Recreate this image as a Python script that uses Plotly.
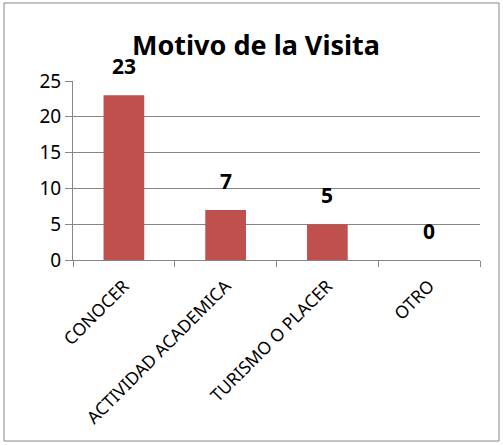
import plotly.graph_objects as go

categorias = ["CONOCER", "ACTIVIDAD ACADEMICA", "TURISMO O PLACER", "OTRO"]
valores = [23, 7, 5, 0]

fuente = "Noto Sans"
rojo = "#C0504D"
gris = "#868686"

fig = go.Figure()
fig.add_trace(go.Bar(x=categorias, y=valores, marker_color=rojo, width=0.4,
                     marker_line_width=0))

# etiquetas de datos en negrita sobre cada barra
for c, v in zip(categorias, valores):
    fig.add_annotation(x=c, y=v, text="<b>%d</b>" % v, showarrow=False,
                       yanchor="bottom", yshift=13,
                       font=dict(family=fuente, size=21, color="black"))

# marco exterior del grafico
fig.add_shape(type="rect", xref="paper", yref="paper",
              x0=(4 - 73) / 407, x1=(499 - 73) / 407,
              y0=(260 - 441) / 179, y1=(260 - 3) / 179,
              line=dict(color=gris, width=1), fillcolor="rgba(0,0,0,0)")

fig.update_layout(
    width=503, height=445,
    margin=dict(l=73, r=23, t=81, b=185),
    paper_bgcolor="white", plot_bgcolor="white",
    showlegend=False,
    font=dict(family=fuente, color="black"),
    title=dict(text="<b>Motivo de la Visita</b>", xref="paper",
               x=(256 - 73) / 407, xanchor="center",
               y=1 - 46 / 445, yanchor="middle",
               font=dict(family=fuente, size=27, color="black")),
)

fig.update_xaxes(showgrid=False, showline=True, linecolor=gris, linewidth=1,
                 ticks="outside", tickson="boundaries", ticklen=6,
                 tickcolor=gris, tickangle=-45, ticklabelstandoff=8,
                 tickfont=dict(family=fuente, size=17.5, color="black"))
fig.update_yaxes(range=[0, 25], dtick=5, showgrid=True, gridcolor=gris,
                 gridwidth=1, showline=True, linecolor=gris, linewidth=1,
                 ticks="outside", ticklen=7, tickcolor=gris, zeroline=False,
                 tickfont=dict(family=fuente, size=19, color="black"))

fig.write_html("out.html", config={"displayModeBar": False},
               post_script="document.body.style.margin='0';")
